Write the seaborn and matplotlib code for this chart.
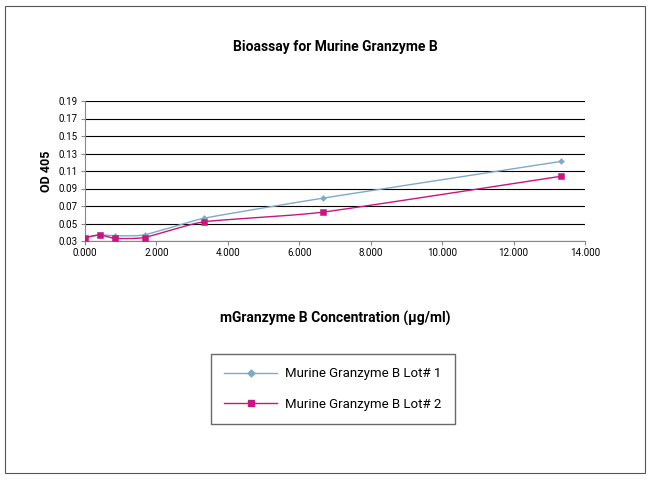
import numpy as np
import pandas as pd
import matplotlib
matplotlib.use("Agg")
import matplotlib.pyplot as plt
import seaborn as sns
from matplotlib.patches import Rectangle
from matplotlib.lines import Line2D

conc = [0.0, 0.417, 0.833, 1.667, 3.333, 6.667, 13.333]
lot1 = [0.034, 0.037, 0.036, 0.037, 0.056, 0.079, 0.121]
lot2 = [0.034, 0.037, 0.033, 0.034, 0.052, 0.063, 0.104]
names = ["Murine Granzyme B Lot# 1", "Murine Granzyme B Lot# 2"]
colors = ["#7fa9c9", "#c8157f"]
yticks = [0.03, 0.05, 0.07, 0.09, 0.11, 0.13, 0.15, 0.17, 0.19]
xticks = [0, 2, 4, 6, 8, 10, 12, 14]

def smooth(x, y, n=30):
    x = np.asarray(x); y = np.asarray(y)
    P = np.column_stack([x, y])
    P = np.vstack([P[0], P, P[-1]])
    out = []
    for i in range(1, len(P) - 2):
        p0, p1, p2, p3 = P[i-1], P[i], P[i+1], P[i+2]
        t = np.linspace(0, 1, n)[:, None]
        m1 = (p2 - p0) / 2 * 0.5
        m2 = (p3 - p1) / 2 * 0.5
        h00 = 2*t**3 - 3*t**2 + 1; h10 = t**3 - 2*t**2 + t
        h01 = -2*t**3 + 3*t**2; h11 = t**3 - t**2
        out.append(h00*p1 + h10*m1 + h01*p2 + h11*m2)
    S = np.vstack(out)
    return S[:, 0], S[:, 1]

plt.rcParams["font.family"] = "Roboto"
fig = plt.figure(figsize=(6.5, 4.79), dpi=100)
fig.patches.append(Rectangle((5/650, 6/479), 640/650, 467/479, transform=fig.transFigure,
                             fill=False, edgecolor="#555555", lw=0.8))
ax = fig.add_axes([85/650, 238/479, 500/650, 140/479])

markers = ["D", "s"]
sizes = [10, 22]
handles = []
for name, ys, c, m, s in zip(names, [lot1, lot2], colors, markers, sizes):
    sx, sy = smooth(conc, ys)
    df = pd.DataFrame({"x": sx, "y": sy})
    sns.lineplot(data=df, x="x", y="y", ax=ax, color=c, lw=1.0, sort=False, estimator=None)
    sns.scatterplot(x=conc, y=ys, ax=ax, color=c, marker=m, s=s, edgecolor=c, zorder=3)
    handles.append(Line2D([], [], color=c, marker=m, markersize=3.5 if m == "D" else 5, lw=1, label=name))

ax.set_xlim(0, 14)
ax.set_ylim(0.03, 0.19)
ax.set_xticks(xticks)
ax.set_xticklabels([f"{v:.3f}" for v in xticks], fontsize=7)
ax.set_yticks(yticks)
ax.set_yticklabels([f"{v:.2f}" for v in yticks], fontsize=7)
ax.yaxis.grid(True, color="black", lw=0.8)
ax.set_axisbelow(True)
for sp in ["top", "right"]:
    ax.spines[sp].set_visible(False)
ax.spines["bottom"].set_color("#888888")
ax.spines["left"].set_color("#888888")
ax.tick_params(length=3, color="#888888", pad=2)
ax.set_xlabel("mGranzyme B Concentration (µg/ml)", fontsize=10, fontweight="bold", labelpad=38)
ax.set_ylabel("OD 405", fontsize=9, fontweight="bold")
ax.set_title("Bioassay for Murine Granzyme B", fontsize=10, fontweight="bold", pad=36)
if ax.get_legend() is not None:
    ax.get_legend().remove()

fig.legend(handles=handles, loc="center", bbox_to_anchor=(333/650, 1 - 389/479), fontsize=9.5,
           frameon=True, fancybox=False, edgecolor="#444444", labelspacing=1.3,
           borderpad=1.0, handlelength=4.0, handletextpad=0.6, borderaxespad=0)
fig.savefig("out.png", dpi=100)
